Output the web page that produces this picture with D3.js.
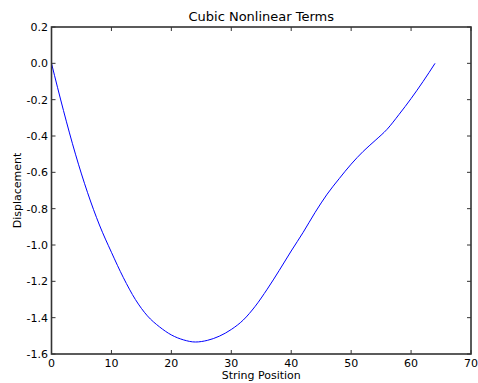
<!DOCTYPE html>
<html>
<head>
<meta charset="utf-8">
<script src="https://cdn.jsdelivr.net/npm/d3@7"></script>
<style>
  body { margin: 0; background: #fff; }
  text { font-family: "DejaVu Sans", sans-serif; fill: #000; }
</style>
</head>
<body>
<svg></svg>
<script>
// string positions and displacement
let positions = [0, 2, 4, 6, 8, 10, 12, 14, 16, 18, 20, 22, 24, 26, 28, 30, 32,
  34, 36, 38, 40, 42, 44, 46, 48, 50, 52, 54, 56, 58, 60, 62, 64];
let displacement = [0, -0.26, -0.50, -0.71, -0.89, -1.04, -1.18, -1.30, -1.39,
  -1.45, -1.495, -1.522, -1.534, -1.525, -1.502, -1.465, -1.413, -1.337, -1.243,
  -1.14, -1.033, -0.93, -0.82, -0.72, -0.635, -0.555, -0.485, -0.425, -0.363,
  -0.281, -0.194, -0.10, 0];
let xTicks = [0, 10, 20, 30, 40, 50, 60, 70];
let yTicks = [0.2, 0.0, -0.2, -0.4, -0.6, -0.8, -1.0, -1.2, -1.4, -1.6];

let width = 478;
let height = 383;
let margin = { left: 51.5, right: 7, top: 27, bottom: 29 };

let svg = d3.select("svg")
  .attr("width", width)
  .attr("height", height);

let x = d3.scaleLinear().domain([0, 70]).range([margin.left, width - margin.right]);
let y = d3.scaleLinear().domain([-1.6, 0.2]).range([height - margin.bottom, margin.top]);

let frameColor = "#333";
let tickLen = 4;

// line
let line = d3.line()
  .x((d, i) => x(positions[i]))
  .y(d => y(d))
  .curve(d3.curveMonotoneX);

svg.append("path")
  .datum(displacement)
  .attr("d", line)
  .attr("fill", "none")
  .attr("stroke", "#0000ff")
  .attr("stroke-width", 1);

// ticks, inward on all four sides
let ticks = svg.append("g").attr("stroke", frameColor).attr("stroke-width", 1);
xTicks.forEach(t => {
  ticks.append("line").attr("x1", x(t)).attr("x2", x(t))
    .attr("y1", y(-1.6)).attr("y2", y(-1.6) - tickLen);
  ticks.append("line").attr("x1", x(t)).attr("x2", x(t))
    .attr("y1", y(0.2)).attr("y2", y(0.2) + tickLen);
});
yTicks.forEach(t => {
  ticks.append("line").attr("x1", x(0)).attr("x2", x(0) + tickLen)
    .attr("y1", y(t)).attr("y2", y(t));
  ticks.append("line").attr("x1", x(70)).attr("x2", x(70) - tickLen)
    .attr("y1", y(t)).attr("y2", y(t));
});

// frame
svg.append("rect")
  .attr("x", x(0)).attr("y", y(0.2))
  .attr("width", x(70) - x(0)).attr("height", y(-1.6) - y(0.2))
  .attr("fill", "none")
  .attr("stroke", frameColor)
  .attr("stroke-width", 1.6);

// tick labels
svg.append("g").selectAll("text")
  .data(xTicks).enter().append("text")
  .attr("x", d => x(d))
  .attr("y", y(-1.6) + 13)
  .attr("text-anchor", "middle")
  .attr("font-size", 11)
  .text(d => d);

svg.append("g").selectAll("text")
  .data(yTicks).enter().append("text")
  .attr("x", x(0) - 3.5)
  .attr("y", d => y(d))
  .attr("dy", "0.36em")
  .attr("text-anchor", "end")
  .attr("font-size", 11)
  .text(d => d.toFixed(1));

// titles
svg.append("text")
  .attr("x", (x(0) + x(70)) / 2)
  .attr("y", 20.5)
  .attr("text-anchor", "middle")
  .attr("font-size", 13)
  .text("Cubic Nonlinear Terms");

svg.append("text")
  .attr("x", (x(0) + x(70)) / 2)
  .attr("y", 379)
  .attr("text-anchor", "middle")
  .attr("font-size", 11)
  .text("String Position");

svg.append("text")
  .attr("transform", `translate(21,${(y(0.2) + y(-1.6)) / 2}) rotate(-90)`)
  .attr("text-anchor", "middle")
  .attr("font-size", 11)
  .text("Displacement");
</script>
</body>
</html>
